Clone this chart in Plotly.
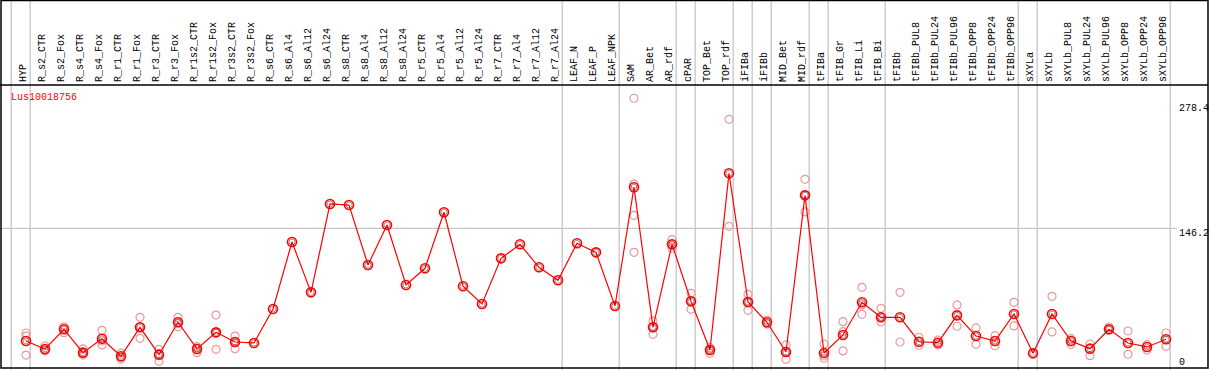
import plotly.graph_objects as go

categories = ["HYP", "R_s2_CTR", "R_s2_Fox", "R_s4_CTR", "R_s4_Fox", "R_r1_CTR", "R_r1_Fox",
              "R_r3_CTR", "R_r3_Fox", "R_r1s2_CTR", "R_r1s2_Fox", "R_r3s2_CTR", "R_r3s2_Fox",
              "R_s6_CTR", "R_s6_Al4", "R_s6_Al12", "R_s6_Al24", "R_s8_CTR", "R_s8_Al4", "R_s8_Al12",
              "R_s8_Al24", "R_r5_CTR", "R_r5_Al4", "R_r5_Al12", "R_r5_Al24", "R_r7_CTR", "R_r7_Al4",
              "R_r7_Al12", "R_r7_Al24", "LEAF_N", "LEAF_P", "LEAF_NPK", "SAM", "AR_Bet", "AR_rdf",
              "cPAR", "TOP_Bet", "TOP_rdf", "iFIBa", "iFIBb", "MID_Bet", "MID_rdf", "tFIBa",
              "tFIB_Gr", "tFIB_Li", "tFIB_Bi", "tFIBb", "tFIBb_PUL8", "tFIBb_PUL24", "tFIBb_PUL96",
              "tFIBb_OPP8", "tFIBb_OPP24", "tFIBb_OPP96", "sXYLa", "sXYLb", "sXYLb_PUL8",
              "sXYLb_PUL24", "sXYLb_PUL96", "sXYLb_OPP8", "sXYLb_OPP24", "sXYLb_OPP96"]

means = [27.6, 19.2, 39.9, 15.3, 30.0, 11.5, 42.0, 13.2, 47.3, 19.2, 36.7, 26.5, 25.5,
         61.3, 131.8, 78.8, 171.8, 170.7, 107.6, 149.7, 86.5, 104.1, 163.1, 85.2, 66.5,
         114.6, 129.4, 105.2, 91.5, 130.4, 120.9, 64.4, 189.4, 42.0, 129.4, 69.4, 18.1,
         204.1, 68.6, 47.3, 16.0, 180.9, 14.9, 33.9, 68.3, 52.5, 52.5, 26.8, 25.8, 54.6,
         32.8, 27.6, 56.0, 14.6, 56.0, 27.6, 19.5, 39.9, 25.5, 21.3, 29.4]

N = None
rep_a = [36.0, 22.3, 42.6, 19.2, 38.8, 14.9, 52.5, 18.8, 52.5, 21.6, 54.9, 32.8, N,
         N, N, N, N, N, N, N, N, N, N, N, N, N, N, N, N, N, N, N,
         283.1, 48.6, 134.2, 77.8, 20.5, 260.9, 76.7, 49.7, 23.4, 197.8, 24.4, 47.9, 84.1,
         62.0, 78.8, 31.5, 28.6, 65.5, 41.3, 33.2, 68.3, N, 74.6, 30.0, 24.4, 42.3, 38.1,
         23.7, 36.0]
rep_b = [32.8, 18.1, 36.3, 12.8, 23.4, 8.6, 30.4, 6.2, 42.6, 15.3, 18.8, 19.5, N,
         N, N, N, N, N, N, N, N, N, N, N, N, N, N, N, N, N, N, N,
         192.8, 34.6, 125.2, 60.9, 14.6, 148.3, 59.9, 45.5, 8.3, 163.4, 9.4, 17.1, 55.7,
         47.6, 26.5, 23.1, 23.4, 43.1, 24.1, 22.6, 43.4, N, 37.1, 24.1, 12.1, 39.2, 13.6,
         18.1, 22.0]
rep_c = [12.8, 17.1, 40.2, 14.9, 27.6, 10.7, 42.3, 13.9, 46.5, 20.2, 36.0, 26.5, N,
         N, N, N, N, N, N, N, N, N, N, N, N, N, N, N, N, N, N, N,
         159.9, 42.3, 128.6, 69.7, 18.1, N, 68.6, N, 16.0, 181.3, 11.8, 37.4, 65.5,
         52.8, N, N, N, N, N, N, N, N, N, N, N, N, N, N, N]
rep_d = [N] * 32 + [120.9] + [N] * 28

group_ends = [-1, 0, 28, 31, 34, 35, 37, 38, 39, 41, 42, 45, 52, 53, 60]
scale_labels = [278.4, 146.2, 0]
gene_id = "Lus10018756"

W, H = 1209, 370
X0_PX, DX_PX = 26.0, 19.0
Y_ZERO_PX, PX_PER_UNIT = 367.2, 0.95
HEADER_PX = 85

x_range = [-X0_PX / DX_PX, (W - X0_PX) / DX_PX]
y_range = [(Y_ZERO_PX - H) / PX_PER_UNIT, Y_ZERO_PX / PX_PER_UNIT]

xs = list(range(len(categories)))
mono = "Liberation Mono, DejaVu Sans Mono, monospace"

fig = go.Figure()

for reps in (rep_a, rep_b, rep_c, rep_d):
    fig.add_trace(go.Scatter(
        x=xs, y=reps, mode="markers",
        marker=dict(symbol="circle-open", size=8, color="#e89a9a", line=dict(width=1.2, color="#e89a9a")),
        showlegend=False, hoverinfo="skip"))

fig.add_trace(go.Scatter(
    x=xs, y=means, mode="lines+markers",
    line=dict(color="#ff0000", width=1.2),
    marker=dict(symbol="circle-open", size=9, color="#ff0000", line=dict(width=1.6, color="#ff0000")),
    showlegend=False))
fig.add_trace(go.Scatter(
    x=xs, y=means, mode="markers",
    marker=dict(symbol="circle-open", size=6, color="rgba(60,0,0,0.55)", line=dict(width=0.8)),
    showlegend=False, hoverinfo="skip"))

shapes = []
for e in group_ends:
    shapes.append(dict(type="line", xref="x", yref="paper", x0=e + 0.22, x1=e + 0.22,
                       y0=0, y1=1, line=dict(color="#c6c6c6", width=1.3), layer="below"))
shapes.append(dict(type="line", xref="paper", yref="y", x0=0, x1=1177 / W,
                   y0=scale_labels[1], y1=scale_labels[1], line=dict(color="#c6c6c6", width=1.3), layer="below"))
shapes.append(dict(type="line", xref="paper", yref="paper", x0=0, x1=1208 / W,
                   y0=1 - HEADER_PX / H, y1=1 - HEADER_PX / H, line=dict(color="black", width=1.5)))
shapes.append(dict(type="rect", xref="paper", yref="paper", x0=1 / W, x1=1208 / W,
                   y0=1 - 368 / H, y1=1 - 0.5 / H, line=dict(color="black", width=1.5)))

annotations = []
for i, c in enumerate(categories):
    annotations.append(dict(x=i, y=1 - 84 / H, xref="x", yref="paper", text=c, textangle=-90,
                            showarrow=False, xanchor="center", yanchor="bottom", xshift=-3,
                            font=dict(family=mono, size=10, color="black")))
for v in scale_labels:
    annotations.append(dict(x=1177 / W, y=max(v, 10.7), xref="paper", yref="y", text=f"{v:g}",
                            showarrow=False, xanchor="left", yanchor="top", yshift=2,
                            font=dict(family=mono, size=10, color="black")))
annotations.append(dict(x=9 / W, y=1 - 97 / H, xref="paper", yref="paper", text=gene_id,
                        showarrow=False, xanchor="left", yanchor="middle",
                        font=dict(family=mono, size=10, color="#ff0000")))

fig.update_layout(
    width=W, height=H, autosize=False,
    margin=dict(l=0, r=0, t=0, b=0),
    paper_bgcolor="white", plot_bgcolor="white",
    xaxis=dict(range=x_range, visible=False, fixedrange=True),
    yaxis=dict(range=y_range, visible=False, fixedrange=True),
    shapes=shapes, annotations=annotations,
)

fig.write_html("out.html", config={"displayModeBar": False},
               post_script="document.body.style.margin='0';document.body.style.overflow='hidden';")
